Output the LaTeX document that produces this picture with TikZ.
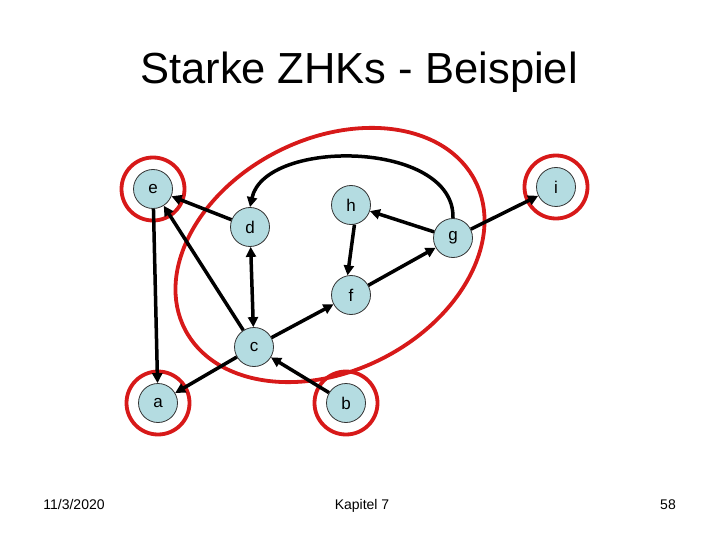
\documentclass[tikz,border=0pt]{standalone}
\usepackage{fontspec}
\setmainfont{Liberation Sans}
\usetikzlibrary{arrows.meta}
\definecolor{nodefill}{RGB}{180,220,225}
\definecolor{sccred}{RGB}{215,25,25}
\begin{document}
\begin{tikzpicture}[x=1pt,y=-1pt,
  vnode/.style={circle,draw=black!80,line width=0.8pt,fill=nodefill,minimum size=39pt,inner sep=0pt,font=\fontsize{17}{17}\selectfont},
  edge/.style={line width=3.5pt,-{Triangle[length=10pt,width=10pt]}},
  bothedge/.style={line width=3.5pt,{Triangle[length=10pt,width=10pt]}-{Triangle[length=10pt,width=10pt]}},
  ring/.style={draw=sccred,line width=3.8pt,circle,minimum size=63pt,inner sep=0pt},
  foot/.style={font=\fontsize{14}{14}\selectfont,anchor=base}]
\useasboundingbox (0,0) rectangle (720,540);

% title and footer
\node[font=\fontsize{43.5}{43.5}\selectfont,anchor=base] (title) at (359,84) {Starke ZHKs - Beispiel};
\node[foot] (date) at (74,509) {11/3/2020};
\node[foot] (chap) at (362,509) {Kapitel 7};
\node[foot] (page) at (668,509) {58};

% strongly connected components
\draw[sccred,line width=3.8pt,rotate around={27:(330,255)}] (330,255) ellipse [x radius=163,y radius=116];
\node[ring] (re) at (153,189) {};
\node[ring] (ra) at (158,403) {};
\node[ring] (rb) at (346,403) {};
\node[ring] (ri) at (556,187) {};

% vertices
\node[vnode] (e) at (153,189) {e};
\node[vnode] (d) at (250,227) {d};
\node[vnode] (h) at (351,205) {h};
\node[vnode] (g) at (453,238) {g};
\node[vnode] (i) at (556,187) {i};
\node[vnode] (f) at (351,295) {f};
\node[vnode] (c) at (254,347) {c};
\node[vnode] (a) at (158,403) {a};
\node[vnode] (b) at (346,403) {b};

% edges
\draw[edge] (e) -- (a);
\draw[edge] (d) -- (e);
\draw[edge] (c) -- (e);
\draw[bothedge] (c) -- (d);
\draw[edge] (c) -- (f);
\draw[edge] (c) -- (a);
\draw[edge] (b) -- (c);
\draw[edge] (h.-80) -- (f.100);
\draw[edge] (f) -- (g);
\draw[edge] (g) -- (h);
\draw[edge] (g) -- (i);
\draw[edge] (g.north) .. controls (455,140) and (265,138) .. (d.north);
\end{tikzpicture}
\end{document}
